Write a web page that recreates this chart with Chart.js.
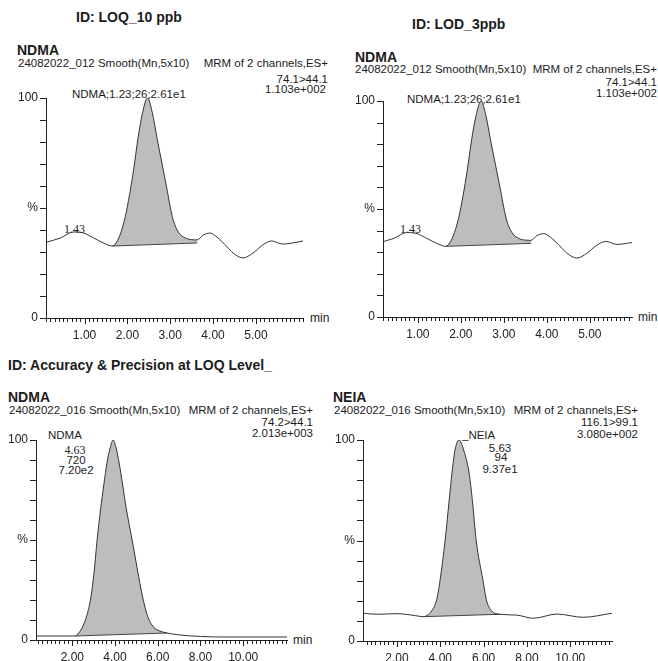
<!DOCTYPE html>
<html>
<head>
<meta charset="utf-8">
<script src="https://cdn.jsdelivr.net/npm/chart.js@4.4.1/dist/chart.umd.min.js"></script>
<style>
  html, body { margin: 0; padding: 0; background: #fff; overflow: hidden; }
  body { width: 658px; height: 661px; position: relative; font-family: "Liberation Sans", Arial, sans-serif; color: #1c1c1c; }
  .t { position: absolute; white-space: pre; font-size: 11.5px; line-height: 11.5px; }
  .b { font-weight: bold; font-size: 14px; line-height: 14px; }
  .s { font-family: "Liberation Serif", serif; font-size: 12px; line-height: 12px; }
  .m { font-size: 12px; line-height: 12px; }
  .c { text-align: center; width: 60px; }
  canvas { position: absolute; }
</style>
</head>
<body>

<!-- top left -->
<div class="t b" style="left:76px; top:10px">ID: LOQ_10 ppb</div>
<div class="t b" style="left:17px; top:43px">NDMA</div>
<div class="t" style="left:18px; top:58px">24082022_012 Smooth(Mn,5x10)</div>
<div class="t" style="right:330px; top:58px">MRM of 2 channels,ES+</div>
<div class="t" style="right:330px; top:74px">74.1&gt;44.1</div>
<div class="t" style="right:332px; top:84px">1.103e+002</div>
<div class="t" style="left:72px; top:89px">NDMA;1.23;26;2.61e1</div>
<div class="t s" style="left:64px; top:223px">1.43</div>
<div class="t m" style="left:310px; top:312px">min</div>

<!-- top right -->
<div class="t b" style="left:412px; top:17px">ID: LOD_3ppb</div>
<div class="t b" style="left:355px; top:50px">NDMA</div>
<div class="t" style="left:355px; top:64px">24082022_012 Smooth(Mn,5x10)</div>
<div class="t" style="right:1px; top:64px">MRM of 2 channels,ES+</div>
<div class="t" style="right:1px; top:77px">74.1&gt;44.1</div>
<div class="t" style="right:1px; top:88px">1.103e+002</div>
<div class="t" style="left:407px; top:94px">NDMA;1.23;26;2.61e1</div>
<div class="t s" style="left:400px; top:223px">1.43</div>
<div class="t m" style="left:638px; top:311px">min</div>

<!-- bottom left -->
<div class="t b" style="left:8px; top:358px">ID: Accuracy &amp; Precision at LOQ Level_</div>
<div class="t b" style="left:8px; top:390px">NDMA</div>
<div class="t" style="left:9px; top:405px">24082022_016 Smooth(Mn,5x10)</div>
<div class="t" style="right:345px; top:405px">MRM of 2 channels,ES+</div>
<div class="t" style="right:345px; top:417px">74.2&gt;44.1</div>
<div class="t" style="right:345px; top:428px">2.013e+003</div>
<div class="t" style="left:48px; top:430px">NDMA</div>
<div class="t s c" style="left:45px; top:444px">4.63</div>
<div class="t c" style="left:46px; top:455px">720</div>
<div class="t c" style="left:46px; top:465px">7.20e2</div>
<div class="t m" style="left:293px; top:634px">min</div>

<!-- bottom right -->
<div class="t b" style="left:333px; top:390px">NEIA</div>
<div class="t" style="left:334px; top:405px">24082022_016 Smooth(Mn,5x10)</div>
<div class="t" style="right:20px; top:405px">MRM of 2 channels,ES+</div>
<div class="t" style="right:20px; top:417px">116.1&gt;99.1</div>
<div class="t" style="right:20px; top:429px">3.080e+002</div>
<div class="t" style="left:462px; top:430px">_NEIA</div>
<div class="t c" style="left:470px; top:443px">5.63</div>
<div class="t c" style="left:471px; top:452px">94</div>
<div class="t c" style="left:470px; top:464px">9.37e1</div>

<canvas id="loq" width="330" height="265" style="left:0px; top:85px"></canvas>
<canvas id="lod" width="328" height="265" style="left:330px; top:85px"></canvas>
<canvas id="acc" width="330" height="245" style="left:0px; top:425px"></canvas>
<canvas id="neia" width="328" height="245" style="left:330px; top:425px"></canvas>

<script>
// data (minutes, % of base peak)
const ndma012Time = [0.12, 0.44, 0.74, 0.98, 1.21, 1.44, 1.65, 1.75, 1.85, 1.95, 2.05, 2.15, 2.25, 2.35, 2.47, 2.58, 2.70, 2.81, 2.93, 3.00, 3.07, 3.19, 3.35, 3.50, 3.63, 3.77, 3.93, 4.09, 4.33, 4.47, 4.70, 4.93, 5.16, 5.37, 5.63, 5.86, 6.10]
const ndma012Pct  = [34.5, 36.4, 39.1, 38.6, 36.4, 34.1, 32.7, 34.5, 39.0, 46.0, 56.0, 68.0, 82.0, 93.0, 100, 93.5, 81.0, 70.0, 58.0, 50.5, 44.5, 39.0, 36.4, 35.6, 35.5, 37.7, 38.6, 36.8, 32.3, 29.5, 27.3, 29.5, 33.2, 35.0, 33.6, 34.1, 35.0]
const ndma012BaseTime = [1.65, 3.63]
const ndma012BasePct  = [32.7, 34.1]
const ndma012TickLabels = [1, 2, 3, 4, 5]

const ndma016Time = [0.30, 1.00, 2.00, 2.14, 2.30, 2.50, 2.70, 2.88, 3.03, 3.16, 3.32, 3.48, 3.63, 3.77, 3.91, 4.05, 4.20, 4.35, 4.52, 4.80, 5.05, 5.28, 5.52, 5.80, 6.10, 6.43, 7.04, 8.00, 9.00, 10.00, 11.00, 12.05]
const ndma016Pct  = [2.0, 2.0, 2.0, 2.0, 3.5, 7.0, 13.0, 22.0, 35.0, 50.0, 65.0, 78.0, 89.0, 96.0, 100, 96.0, 88.0, 78.0, 66.0, 50.0, 35.0, 22.0, 12.0, 6.5, 4.5, 3.5, 2.5, 1.8, 1.5, 1.5, 1.5, 1.5]
const ndma016BaseTime = [2.14, 6.43]
const ndma016BasePct  = [2.0, 3.5]
const ndma016TickLabels = [2, 4, 6, 8, 10]

const neia016Time = [0.43, 1.10, 2.00, 2.60, 3.10, 3.22, 3.60, 3.83, 3.99, 4.22, 4.41, 4.54, 4.68, 4.86, 5.08, 5.33, 5.48, 5.66, 5.97, 6.13, 6.37, 6.76, 7.52, 8.30, 9.38, 10.60, 11.93]
const neia016Pct  = [13.8, 13.3, 13.6, 13.0, 12.2, 12.1, 15.0, 20.4, 30.3, 49.8, 70.0, 83.6, 95.0, 100, 95.0, 83.6, 70.0, 49.8, 30.3, 20.4, 15.0, 13.3, 12.9, 11.3, 13.4, 11.8, 13.8]
const neia016BaseTime = [3.22, 6.76]
const neia016BasePct  = [12.1, 13.3]
const neia016TickLabels = [2, 4, 6, 8, 10]

const yTickLabels = { 0: '0', 50: '%', 100: '100' }

// helpers
Chart.defaults.font.family = '"Liberation Sans", Arial, sans-serif'

const pts = (xs, ys) => xs.map((x, i) => ({ x, y: ys[i] }))
const between = (xs, ys, lo, hi) => pts(xs, ys).filter(p => p.x >= lo && p.x <= hi)

const xLabel = labels => v =>
  labels.some(l => Math.abs(l - v) < 1e-6) ? v.toFixed(2) : ''

// comb of tick marks under the time axis and left of the % axis
const tickMarks = {
  id: 'tickMarks',
  afterDraw(chart) {
    const { ctx, scales: { x, y } } = chart
    const x0 = Math.round(x.top)
    const y0 = Math.round(y.right)
    ctx.save()
    ctx.strokeStyle = '#222'
    ctx.lineWidth = 1
    ctx.beginPath()
    x.ticks.forEach(t => {
      const px = Math.round(x.getPixelForValue(t.value)) + 0.5
      ctx.moveTo(px, x0)
      ctx.lineTo(px, x0 + (t.label ? 6 : 4))
    })
    y.ticks.forEach(t => {
      const py = Math.round(y.getPixelForValue(t.value)) + 0.5
      ctx.moveTo(y0 - 6, py)
      ctx.lineTo(y0, py)
    })
    ctx.stroke()
    ctx.restore()
  },
}

const chromatogram = (id, time, pct, baseTime, basePct, labels, p) =>
  new Chart(document.getElementById(id), {
    type: 'line',
    data: {
      datasets: [
        { data: pts(time, pct), borderColor: '#333', borderWidth: 1, pointRadius: 0, fill: false, cubicInterpolationMode: 'monotone' },
        { data: pts(baseTime, basePct), borderColor: '#444', borderWidth: 1, pointRadius: 0, fill: false, tension: 0 },
        { data: between(time, pct, baseTime[0], baseTime[1]), borderColor: 'transparent', borderWidth: 1, pointRadius: 0,
          backgroundColor: '#bdbdbd', fill: 1, cubicInterpolationMode: 'monotone' },
      ],
    },
    plugins: [tickMarks],
    options: {
      responsive: false,
      animation: false,
      events: [],
      layout: { padding: { top: p.top, right: p.right, left: 0, bottom: 0 } },
      plugins: { legend: { display: false }, tooltip: { enabled: false } },
      scales: {
        x: {
          type: 'linear', min: p.xmin, max: p.xmax,
          afterFit: s => { s.height = p.xh },
          border: { color: '#222', width: 1 },
          grid: { drawOnChartArea: false, tickLength: 3, tickColor: 'transparent' },
          ticks: { stepSize: p.step, autoSkip: false, maxRotation: 0, minRotation: 0, includeBounds: false,
            padding: 7, color: '#222', font: { size: 12 }, callback: xLabel(labels) },
        },
        y: {
          min: 0, max: 100,
          afterFit: s => { s.width = p.yw },
          border: { color: '#222', width: 1 },
          grid: { drawOnChartArea: false, tickLength: 5, tickColor: 'transparent' },
          ticks: { stepSize: 10, autoSkip: false, padding: 3, color: '#222', font: { size: 12 },
            callback: v => yTickLabels[v] || '' },
        },
      },
    },
  })

// charts
chromatogram('loq', ndma012Time, ndma012Pct, ndma012BaseTime, ndma012BasePct, ndma012TickLabels,
  { top: 13, right: 27, yw: 46, xh: 32, xmin: 0.1, xmax: 6.1, step: 0.1 })
chromatogram('lod', ndma012Time, ndma012Pct, ndma012BaseTime, ndma012BasePct, ndma012TickLabels,
  { top: 16, right: 26, yw: 53, xh: 33, xmin: 0.19, xmax: 5.98, step: 0.1 })
chromatogram('acc', ndma016Time, ndma016Pct, ndma016BaseTime, ndma016BasePct, ndma016TickLabels,
  { top: 15, right: 43, yw: 36, xh: 30, xmin: 0.3, xmax: 12.05, step: 0.2 })
chromatogram('neia', neia016Time, neia016Pct, neia016BaseTime, neia016BasePct, neia016TickLabels,
  { top: 15, right: 46, yw: 33, xh: 29, xmin: 0.43, xmax: 11.93, step: 0.2 })
</script>
</body>
</html>
